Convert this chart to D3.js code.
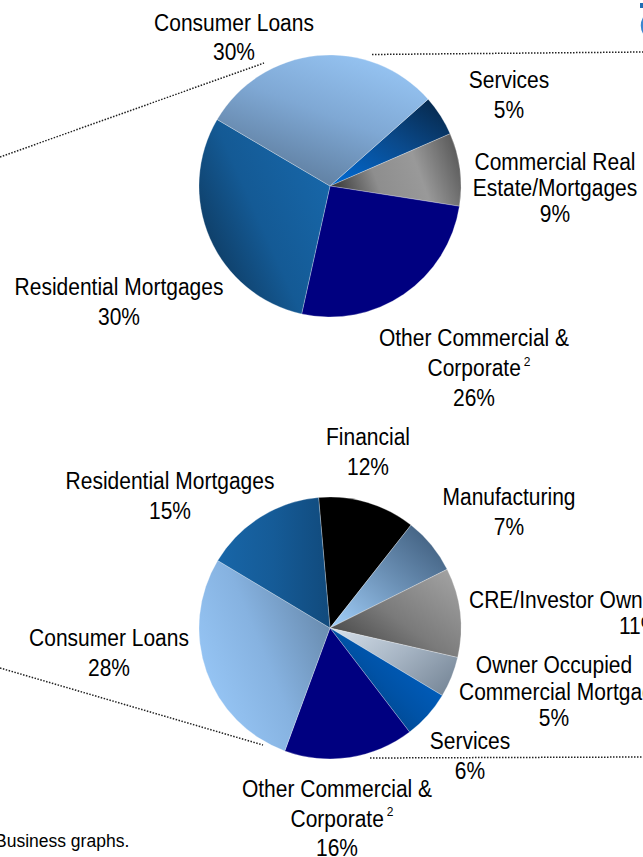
<!DOCTYPE html>
<html>
<head>
<meta charset="utf-8">
<script src="https://cdn.jsdelivr.net/npm/d3@7"></script>
<style>
  body { margin: 0; background: #fff; }
  svg { display: block; }
  text { font-family: "Liberation Sans", Arial, sans-serif; fill: #000; }
</style>
</head>
<body>
<div id="chart"></div>
<script>
// top pie: loan book by type (clockwise from the Services slice)
var topCategories = ['Services', 'Commercial Real Estate/Mortgages', 'Other Commercial & Corporate', 'Residential Mortgages', 'Consumer Loans'];
var topShares = [5, 9, 26, 30, 30];

// bottom pie: clockwise from Financial
var bottomCategories = ['Financial', 'Manufacturing', 'CRE/Investor Owned', 'Owner Occupied Commercial Mortgages', 'Services', 'Other Commercial & Corporate', 'Consumer Loans', 'Residential Mortgages'];
var bottomShares = [12, 7, 11, 5, 6, 16, 28, 15];

var footnote = 'Business graphs.';

// slice fills, [x1, y1, x2, y2] and stops
var fills = {
	'top|Services': {dir: [1, 0, 0.1, 1], stops: ['#062443', '#0a4a8c', '#0068cf']},
	'top|Commercial Real Estate/Mortgages': {dir: [0, 0.6, 1, 0.4], stops: ['#3a3a3a', '#8e8e8e', '#999999', '#5c5c5c']},
	'top|Other Commercial & Corporate': {solid: '#000080'},
	'top|Residential Mortgages': {dir: [0.9, 0.2, 0, 0.8], stops: ['#1766a8', '#145a95', '#0d3558']},
	'top|Consumer Loans': {dir: [0.9, 0, 0.3, 1], stops: ['#9ac9f8', '#7fa8d4', '#5a7898']},
	'bot|Financial': {solid: '#000000'},
	'bot|Manufacturing': {dir: [1, 0, 0, 1], stops: ['#375473', '#6b90b5', '#a2d0fb']},
	'bot|CRE/Investor Owned': {dir: [0, 1, 1, 0.1], stops: ['#383838', '#7a7a7a', '#a2a2a2']},
	'bot|Owner Occupied Commercial Mortgages': {dir: [0, 0.2, 1, 0.8], stops: ['#d0dbe6', '#a6b4c3', '#788899']},
	'bot|Services': {dir: [1, 0.2, 0.1, 1], stops: ['#0064ca', '#0052a6', '#023a72']},
	'bot|Other Commercial & Corporate': {solid: '#000080'},
	'bot|Consumer Loans': {dir: [0, 0.8, 1, 0.2], stops: ['#9acafa', '#86b2e0', '#6586a8']},
	'bot|Residential Mortgages': {dir: [0, 0.5, 1, 0.5], stops: ['#1866a8', '#155b97', '#114a7c']}
};

// label placement: centre x, first baseline, line height (xs = per-line start x)
var topLabels = {
	'Services': {x: 509, y: 88, lh: 30, lines: ['Services']},
	'Commercial Real Estate/Mortgages': {x: 555, y: 170, lh: 26, lines: ['Commercial Real', 'Estate/Mortgages']},
	'Other Commercial & Corporate': {x: 474, y: 346, lh: 30, lines: ['Other Commercial &', 'Corporate'], sup: 1},
	'Residential Mortgages': {x: 119, y: 295, lh: 30, lines: ['Residential Mortgages']},
	'Consumer Loans': {x: 234, y: 31, lh: 28.5, lines: ['Consumer Loans']}
};
var bottomLabels = {
	'Financial': {x: 368, y: 445, lh: 30, lines: ['Financial']},
	'Manufacturing': {x: 509, y: 505, lh: 30, lines: ['Manufacturing']},
	'CRE/Investor Owned': {x: 569, y: 608, lh: 26, lines: ['CRE/Investor Owned'], xs: [469, 619]},
	'Owner Occupied Commercial Mortgages': {x: 554, y: 673, lh: 26.5, lines: ['Owner Occupied', 'Commercial Mortgages'], xs: [null, 459]},
	'Services': {x: 470, y: 749, lh: 30, lines: ['Services']},
	'Other Commercial & Corporate': {x: 337, y: 797, lh: 29.5, lines: ['Other Commercial &', 'Corporate'], sup: 1},
	'Consumer Loans': {x: 109, y: 646, lh: 30, lines: ['Consumer Loans']},
	'Residential Mortgages': {x: 170, y: 489, lh: 30, lines: ['Residential Mortgages']}
};

var width = 643, height = 857;
var radius = 131;
var fontSize = 21, stretch = 1.12;

var svg = d3.select('#chart').append('svg')
	.attr('width', width)
	.attr('height', height);

var defs = svg.append('defs');

function drawPie(key, categories, shares, cx, cy, startDeg, labels) {
	var rows = categories.map((c, i) => ({name: c, value: shares[i]}));
	var start = startDeg * Math.PI / 180;

	var pie = d3.pie()
		.sort(null)
		.value(d => d.value)
		.startAngle(start)
		.endAngle(start + 2 * Math.PI);

	var arc = d3.arc().innerRadius(0).outerRadius(radius);

	rows.forEach((d, i) => {
		var f = fills[key + '|' + d.name];
		if (f.solid) { d.fill = f.solid; return; }
		var id = 'g-' + key + '-' + i;
		var g = defs.append('linearGradient')
			.attr('id', id)
			.attr('x1', f.dir[0]).attr('y1', f.dir[1])
			.attr('x2', f.dir[2]).attr('y2', f.dir[3]);
		g.selectAll('stop')
			.data(f.stops)
			.enter()
			.append('stop')
			.attr('offset', (s, j) => j / (f.stops.length - 1))
			.attr('stop-color', s => s);
		d.fill = 'url(#' + id + ')';
	});

	var g = svg.append('g')
		.attr('transform', `translate(${cx}, ${cy})`);

	g.selectAll('path')
		.data(pie(rows))
		.enter()
		.append('path')
		.attr('d', arc)
		.attr('fill', d => d.data.fill)
		.attr('stroke', 'rgba(255,255,255,0.45)')
		.attr('stroke-width', 0.6);

	// labels, last line is the share
	rows.forEach(d => {
		var l = labels[d.name];
		var lines = l.lines.concat([d.value + '%']);
		lines.forEach((txt, i) => {
			var x = l.x, anchor = 'middle';
			if (l.xs && l.xs[i] != null) { x = l.xs[i]; anchor = 'start'; }
			var hasSup = l.sup === i;
			if (hasSup) x += 5;
			var t = svg.append('text')
				.attr('transform', `translate(${x}, ${l.y + i * l.lh}) scale(1, ${stretch})`)
				.attr('text-anchor', anchor)
				.attr('font-size', fontSize)
				.text(txt);
			if (hasSup) {
				t.append('tspan')
					.attr('dx', 3)
					.attr('dy', -9)
					.attr('font-size', 12)
					.text('2');
			}
		});
	});
}

// dotted leader lines into the neighbouring panel
var leaders = [
	[[0, 157], [264, 63]],
	[[372, 54.5], [643, 52]],
	[[0, 668], [263, 745]],
	[[370, 758], [643, 757]]
];
svg.selectAll('.leader')
	.data(leaders)
	.enter()
	.append('path')
	.attr('class', 'leader')
	.attr('d', d3.line())
	.attr('fill', 'none')
	.attr('stroke', '#222')
	.attr('stroke-width', 1.5)
	.attr('stroke-dasharray', '1.5,1.5');

drawPie('top', topCategories, topShares, 330, 186, 48.5, topLabels);
drawPie('bot', bottomCategories, bottomShares, 330, 628, -5, bottomLabels);

// cut-off bits of the page header in the corner
svg.append('rect')
	.attr('x', 640).attr('y', 3)
	.attr('width', 4).attr('height', 5)
	.attr('fill', '#1f6db3');
svg.append('path')
	.attr('d', 'M644,18 Q640,25.5 644,33')
	.attr('fill', 'none')
	.attr('stroke', '#3a86d0')
	.attr('stroke-width', 2.5);

svg.append('text')
	.attr('x', -5)
	.attr('y', 847)
	.attr('font-size', 17.5)
	.text(footnote);
</script>
</body>
</html>
